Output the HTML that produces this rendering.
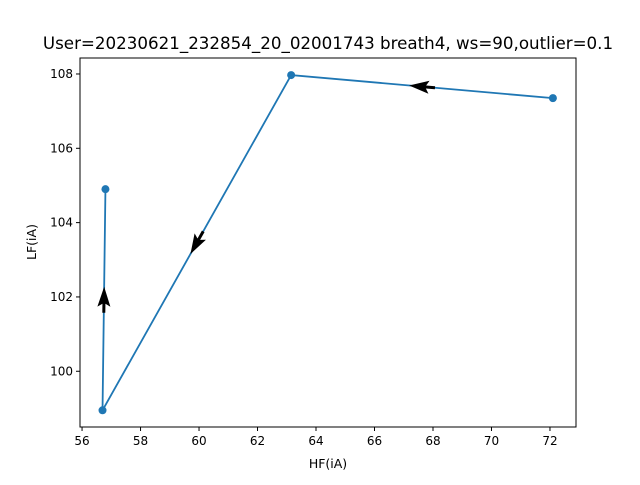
<!DOCTYPE html>
<html><head><meta charset="utf-8"><style>
body{margin:0;background:#fff}
svg{font-family:"DejaVu Sans","Liberation Sans",sans-serif}
</style></head><body>
<svg width="640" height="480" viewBox="0 0 640 480">
<rect width="640" height="480" fill="#fff"/>
<text x="328" y="49" text-anchor="middle" font-size="16.7">User=20230621_232854_20_02001743 breath4, ws=90,outlier=0.1</text>
<g id="axes"></g>
<text x="328" y="468" text-anchor="middle" font-size="12.5">HF(iA)</text>
<text x="36" y="242" text-anchor="middle" font-size="12.5" transform="rotate(-90 36 242)">LF(iA)</text>
</svg>
<script>
const xs=[72.1,63.15,56.7,56.8];
const ys=[107.35,107.97,98.95,104.9];
const xTicks=[56,58,60,62,64,66,68,70,72];
const yTicks=[100,102,104,106,108];
const L=80,R=576,T=58,B=427;
const x0=55.93,x1=72.89,y0=98.5,y1=108.43;
const X=v=>L+(v-x0)/(x1-x0)*(R-L);
const Y=v=>B-(v-y0)/(y1-y0)*(B-T);
const g=document.getElementById('axes');
const NS='http://www.w3.org/2000/svg';
function mk(t,a){const e=document.createElementNS(NS,t);for(const k in a)e.setAttribute(k,a[k]);g.appendChild(e);return e;}
xTicks.forEach(v=>{
 const l=mk('line',{x1:X(v),x2:X(v),y1:B,y2:B+4,stroke:'#000'});
 
 
 const t=mk('text',{x:X(v),y:B+18,'text-anchor':'middle','font-size':'12'});t.textContent=v;
 
 
});
yTicks.forEach(v=>{
 const l=mk('line',{x1:L-4,x2:L,y1:Y(v),y2:Y(v),stroke:'#000'});
 
 
 const t=mk('text',{x:L-7,y:Y(v)+4,'text-anchor':'end','font-size':'12'});t.textContent=v;
 
 
});
const line=mk('polyline',{points:xs.map((v,i)=>X(v)+','+Y(ys[i])).join(' '),fill:'none',stroke:'#1f77b4','stroke-width':1.8});


xs.forEach((v,i)=>{
 const c=mk('circle',{cx:X(v),cy:Y(ys[i]),r:4,fill:'#1f77b4'});
 
 
});
for(let i=0;i<xs.length-1;i++){
 const ax=X(xs[i]),ay=Y(ys[i]),bx=X(xs[i+1]),by=Y(ys[i+1]);
 const mx=(ax+bx)/2,my=(ay+by)/2;
 const ang=Math.atan2(by-ay,bx-ax)*180/Math.PI;
 const p=mk('polygon',{points:'13,0 -7,-6.5 -4,-1.5 -13,-1.5 -13,1.5 -4,1.5 -7,6.5',fill:'#000',transform:`translate(${mx},${my}) rotate(${ang})`});
 
 
}
const f=mk('rect',{x:L,y:T,width:R-L,height:B-T,fill:'none',stroke:'#000','stroke-width':1});


</script>
</body></html>
